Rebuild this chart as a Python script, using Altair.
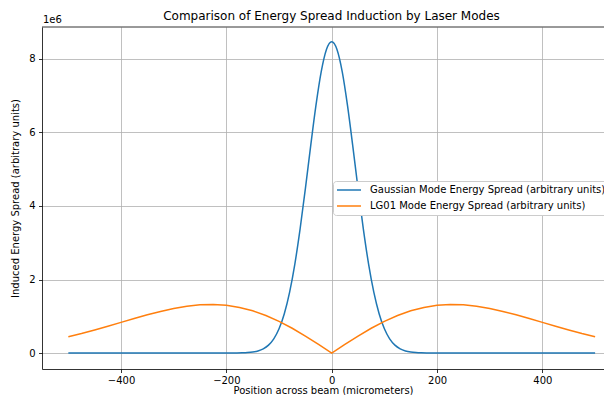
import altair as alt
import pandas as pd

TITLE = "Comparison of Energy Spread Induction by Laser Modes"
X_TITLE = "Position across beam (micrometers)"
Y_TITLE = "Induced Energy Spread (arbitrary units)"
SERIES = ["Gaussian Mode Energy Spread (arbitrary units)",
          "LG01 Mode Energy Spread (arbitrary units)"]
COLORS = ["#1f77b4", "#ff7f0e"]
X_TICKS = [-400, -200, 0, 200, 400]
Y_TICKS = [0, 2, 4, 6, 8]

# Gaussian mode (values in units of 1e6)
gauss_x = [-500, -400, -300, -200, -190, -180, -170, -160, -150, -140, -130, -120,
           -110, -100, -90, -80, -70, -60, -50, -40, -30, -20, -10, 0,
           10, 20, 30, 40, 50, 60, 70, 80, 90, 100, 110, 120, 130, 140, 150,
           160, 170, 180, 190, 200, 300, 400, 500]
gauss_y = [0.0, 0.0, 0.0, 0.0, 0.001, 0.002, 0.005, 0.012, 0.027, 0.057, 0.113, 0.214,
           0.385, 0.658, 1.07, 1.65, 2.42, 3.38, 4.47, 5.63, 6.73, 7.65, 8.26, 8.47,
           8.26, 7.65, 6.73, 5.63, 4.47, 3.38, 2.42, 1.65, 1.07, 0.658, 0.385, 0.214,
           0.113, 0.057, 0.027, 0.012, 0.005, 0.002, 0.001, 0.0, 0.0, 0.0, 0.0]

# LG01 mode (values in units of 1e6)
lg_x = [-500, -475, -450, -425, -400, -375, -350, -325, -300, -275, -250, -225,
        -200, -175, -150, -125, -100, -75, -50, -25, 0,
        25, 50, 75, 100, 125, 150, 175, 200, 225, 250, 275, 300, 325, 350,
        375, 400, 425, 450, 475, 500]
lg_y = [0.444, 0.531, 0.627, 0.728, 0.833, 0.938, 1.039, 1.132, 1.212, 1.273, 1.310, 1.319,
        1.297, 1.240, 1.148, 1.021, 0.862, 0.673, 0.462, 0.235, 0.0,
        0.235, 0.462, 0.673, 0.862, 1.021, 1.148, 1.240, 1.297, 1.319, 1.310, 1.273,
        1.212, 1.132, 1.039, 0.938, 0.833, 0.728, 0.627, 0.531, 0.444]

W, H = 562, 342

df_g = pd.DataFrame({"x": gauss_x, "y": gauss_y, "series": SERIES[0]})
df_l = pd.DataFrame({"x": lg_x, "y": lg_y, "series": SERIES[1]})

xs = alt.Scale(domain=[-550, 516.9], nice=False, zero=False)
ys = alt.Scale(domain=[-0.435, 8.87], nice=False, zero=False)

x_enc = alt.X("x:Q", scale=xs,
              axis=alt.Axis(values=X_TICKS, title=X_TITLE, titleY=21,
                            titleBaseline="middle", labelPadding=2.5))
y_enc = alt.Y("y:Q", scale=ys,
              axis=alt.Axis(values=Y_TICKS, title=Y_TITLE, titleX=-27, titleY=H / 2,
                            titleBaseline="middle", titleAlign="center",
                            labelPadding=3.5))
color_enc = alt.Color("series:N",
                      scale=alt.Scale(domain=SERIES, range=COLORS),
                      legend=alt.Legend(orient="none", legendX=291, legendY=154,
                                        title=None, symbolType="M-1.67,0L6.33,0",
                                        symbolSize=36, symbolStrokeWidth=1.5,
                                        padding=4, rowPadding=6, labelOffset=23,
                                        labelFontSize=10, labelColor="black",
                                        labelFont="DejaVu Sans", labelLimit=400,
                                        strokeColor="#cccccc", fillColor="white",
                                        cornerRadius=3))

gauss = alt.Chart(df_g).mark_line(strokeWidth=1.5, interpolate="monotone").encode(
    x=x_enc, y=y_enc, color=color_enc)
lg = alt.Chart(df_l).mark_line(strokeWidth=1.5).encode(
    x=x_enc, y=y_enc, color=color_enc)

top_spine = alt.Chart(pd.DataFrame({"a": [0]})).mark_rule(
    color="black", strokeWidth=0.8).encode(
    x=alt.value(0), x2=alt.value(W), y=alt.value(0))

offset_text = alt.Chart(pd.DataFrame({"t": ["1e6"]})).mark_text(
    align="left", baseline="middle", fontSize=10, font="DejaVu Sans",
    color="black").encode(x=alt.value(1), y=alt.value(-7), text="t:N")

title_text = alt.Chart(pd.DataFrame({"t": [TITLE]})).mark_text(
    align="center", baseline="middle", fontSize=12, font="DejaVu Sans",
    color="black").encode(x=alt.value(289.5), y=alt.value(-11), text="t:N")

chart = alt.layer(gauss, lg, top_spine, offset_text, title_text).properties(
    width=W, height=H,
    autosize=alt.AutoSizeParams(type="none"),
    padding={"left": 34, "top": 19, "right": 0, "bottom": 26},
).configure_view(stroke=None).configure_axis(
    labelFont="DejaVu Sans", labelFontSize=10, labelColor="black",
    titleFont="DejaVu Sans", titleFontSize=10, titleFontWeight="normal",
    titleColor="black", domainColor="black", domainWidth=0.8,
    tickColor="black", tickSize=3.5, tickWidth=0.8,
    gridColor="#b0b0b0", gridWidth=0.8, gridOpacity=1,
)

chart.save("out.html", embed_options={"renderer": "svg", "actions": False})
